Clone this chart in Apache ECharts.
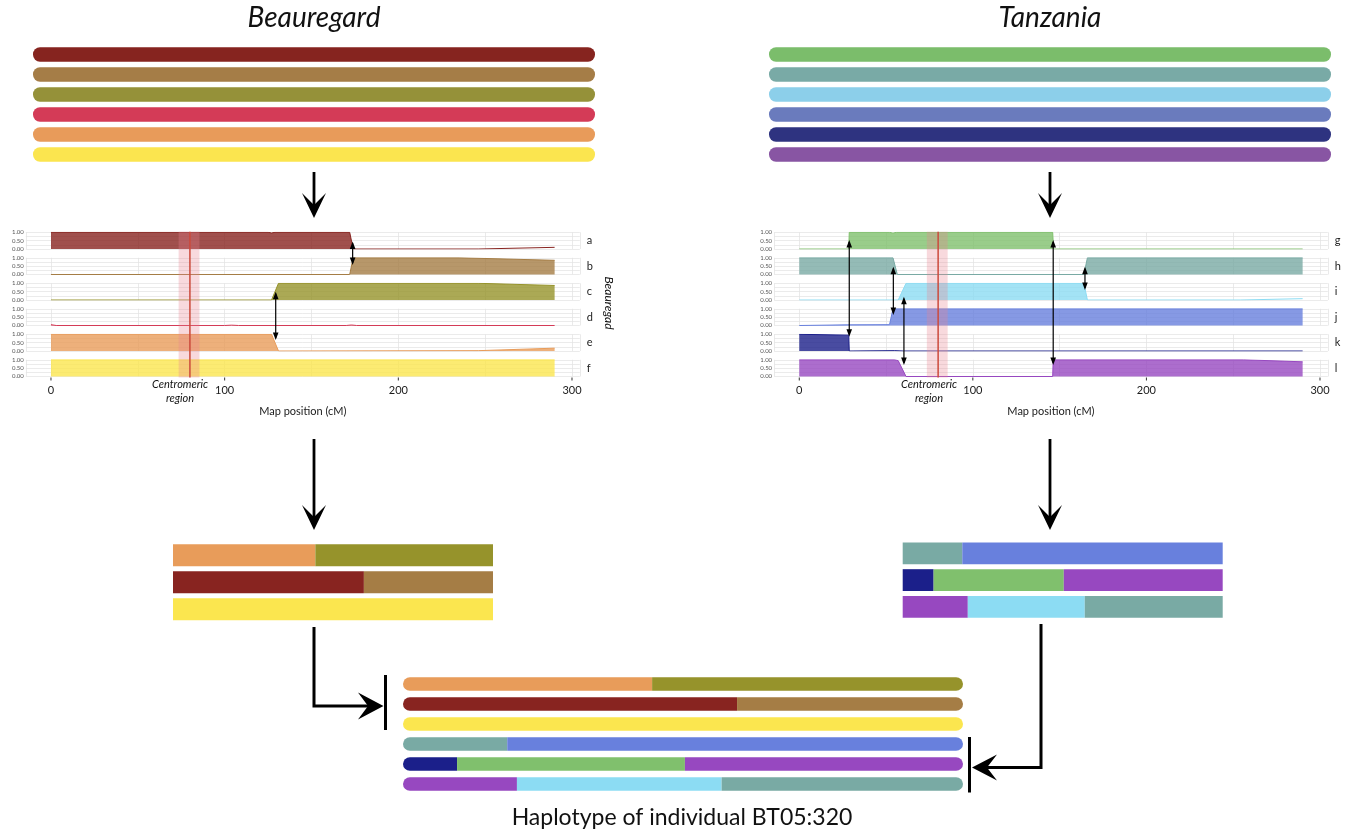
<!DOCTYPE html>
<html>
<head>
<meta charset="utf-8">
<script src="https://cdn.jsdelivr.net/npm/echarts@6/dist/echarts.min.js"></script>
<style>html,body{margin:0;padding:0;background:#fff}#c{width:1354px;height:835px}</style>
</head>
<body>
<div id="c"></div>
<script>
// ---------------- DATA ----------------
const chromLength = 290; // cM
const bxHaps = ['a', 'b', 'c', 'd', 'e', 'f'];
const tzHaps = ['g', 'h', 'i', 'j', 'k', 'l'];
// muted colours used for the founder bars at the top
const bxBarColors = ['#86241f', '#a57d47', '#959139', '#d43b57', '#e89b5a', '#fbe54f'];
const tzBarColors = ['#7bbd6b', '#79aaa6', '#8ccfea', '#6a7bbd', '#2e3380', '#8855a3'];
// colours used in probability panels and mosaics
const bxColors = ['#882420', '#a57d45', '#96932b', '#d43b57', '#e89c5a', '#fbe64f'];
const tzColors = ['#80c06d', '#79aaa4', '#8cdcf3', '#6880dd', '#1b1f8a', '#9748c0'];

// haplotype probabilities along the chromosome  [cM, probability]
const probA = [[0, 1], [125, 1], [127, 0.96], [129, 1], [172, 1], [174, 0], [246, 0], [290, 0.1]];
const probB = [[0, 0], [172, 0], [174, 1], [235, 1], [290, 0.85]];
const probC = [[0, 0], [127, 0], [131, 1], [246, 1], [290, 0.87]];
const probD = [[0, 0.05], [3, 0], [100, 0], [104, 0.02], [108, 0], [170, 0], [173, 0.03], [176, 0], [290, 0]];
const probE = [[0, 1], [127, 1], [131, 0], [246, 0.02], [290, 0.17]];
const probF = [[0, 1], [290, 1]];
const probG = [[0, 0], [28.5, 0], [28.8, 1], [52, 1], [54, 0.95], [56, 1], [146, 1], [146.5, 0], [290, 0]];
const probH = [[0, 1], [54, 1], [56.5, 0], [164, 0], [166, 1], [290, 1]];
const probI = [[0, 0], [57, 0], [61.5, 1], [164, 1], [166, 0], [254, 0], [290, 0.08]];
const probJ = [[0, 0], [28, 0.04], [52, 0.05], [54, 1], [290, 1]];
const probK = [[0, 1], [28.5, 0.95], [28.8, 0], [55, 0.02], [60, 0], [290, 0]];
const probL = [[0, 1], [55, 1], [57, 0.95], [61.5, 0], [146, 0], [146.3, 1], [256, 1], [290, 0.88]];
const bxProbs = [probA, probB, probC, probD, probE, probF];
const tzProbs = [probG, probH, probI, probJ, probK, probL];

// centromeric region [start, end, centre] in cM
const centromere = [73.5, 85.5, 80];
// crossover arrows: [cM, from track, to track]  (tracks counted from the top panel)
const bxArrows = [[173.7, 0.67, 1.59], [129.4, 2.64, 4.53]];
const tzArrows = [[28.8, 0.61, 4.4], [54.2, 1.66, 3.55], [60.3, 2.83, 5.51], [146.3, 0.61, 5.51], [164.6, 1.66, 2.57]];

// inferred haplotype segments: [start cM, end cM, haplotype]
const bxSegments = [
  [[0, 129, 'e'], [129, 290, 'c']],
  [[0, 173, 'a'], [173, 290, 'b']],
  [[0, 290, 'f']]
];
const tzSegments = [
  [[0, 54, 'h'], [54, 290, 'j']],
  [[0, 28, 'k'], [28, 146, 'g'], [146, 290, 'l']],
  [[0, 59, 'l'], [59, 165, 'i'], [165, 290, 'h']]
];
const xTickValues = [0, 100, 200, 300];
const xAxisTitle = 'Map position (cM)';
const titles = ['Beauregard', 'Tanzania'];
const caption = 'Haplotype of individual BT05:320';

// ---------------- CHART ----------------
const FONT = 'Lato, "Open Sans", sans-serif';
const NTRACK = 6;
const colorOf = {};
bxHaps.forEach((h, i) => colorOf[h] = bxColors[i]);
tzHaps.forEach((h, i) => colorOf[h] = tzColors[i]);

const option = {animation: false, textStyle: {fontFamily: FONT}, grid: [], xAxis: [], yAxis: [], series: [], graphic: []};
function addGrid(g) { option.grid.push(Object.assign({containLabel: false}, g)); return option.grid.length - 1; }
function addX(a) { option.xAxis.push(a); return option.xAxis.length - 1; }
function addY(a) { option.yAxis.push(a); return option.yAxis.length - 1; }

function segRender(hFrac, radius) {
  return function (params, api) {
    const row = api.value(0), s = api.value(1), e = api.value(2);
    const p0 = api.coord([s, row]);
    const p1 = api.coord([e, row]);
    const h = api.size([0, 1])[1] * hFrac;
    const rl = s <= 0 ? radius : 0;
    const rr = e >= chromLength ? radius : 0;
    return {type: 'rect', shape: {x: p0[0], y: p0[1] - h / 2, width: p1[0] - p0[0], height: h, r: [rl, rr, rr, rl]},
      style: {fill: api.visual('color')}};
  };
}
function addSegmentGrid(box, rows, hFrac, radius) {
  const gi = addGrid(box);
  const xi = addX({gridIndex: gi, type: 'value', min: 0, max: chromLength, show: false});
  const yi = addY({gridIndex: gi, type: 'category', inverse: true, data: rows.map((r, i) => i), show: false});
  const data = [];
  rows.forEach((segs, r) => segs.forEach(s => data.push({value: [r, s[0], s[1]], itemStyle: {color: s[3] || colorOf[s[2]]}})));
  option.series.push({type: 'custom', xAxisIndex: xi, yAxisIndex: yi, renderItem: segRender(hFrac, radius),
    encode: {x: [1, 2], y: 0}, data: data, clip: false});
}
// founder bars
addSegmentGrid({left: 33, top: 44.5, width: 562, height: 120}, bxBarColors.map(c => [[0, chromLength, '', c]]), 0.72, 7);
addSegmentGrid({left: 769, top: 44.5, width: 562, height: 120}, tzBarColors.map(c => [[0, chromLength, '', c]]), 0.72, 7);

// probability panels
const panelTop0 = 232.3, panelStep = 25.5, panelH = 16.7;
function addPanels(side) {
  for (let i = 0; i < 6; i++) {
    const gi = addGrid({left: side.left, width: side.width, top: panelTop0 + i * panelStep, height: panelH});
    const xi = addX({gridIndex: gi, type: 'value', min: -14.5, max: 304.5, splitNumber: 6,
      axisLine: {show: false, onZero: false}, axisTick: {show: false}, axisLabel: {show: false},
      splitLine: {show: true, lineStyle: {color: '#e4e4e4', width: 0.8}}});
    const yi = addY({gridIndex: gi, type: 'value', min: 0, max: 1, interval: 0.25,
      axisLine: {show: false, onZero: false}, axisTick: {show: false},
      axisLabel: {fontSize: 6, color: '#555', margin: 2, formatter: v => (Math.round(v * 100) % 50 === 0 ? v.toFixed(2) : '')},
      splitLine: {show: true, lineStyle: {color: '#e6e6e6', width: 0.8}}});
    addY({gridIndex: gi, type: 'category', data: [side.haps[i]], position: 'right',
      axisLine: {show: false, onZero: false}, axisTick: {show: false}, splitLine: {show: false},
      axisLabel: {fontSize: 11, color: '#222', margin: 7}});
    option.series.push({type: 'line', xAxisIndex: xi, yAxisIndex: yi, data: side.probs[i], showSymbol: false,
      symbol: 'none', lineStyle: {color: side.colors[i], width: 1}, areaStyle: {color: side.colors[i], opacity: 0.8}, z: 2});
  }
  // overlay grid: x axis, centromere, crossover arrows (y = tracks from the bottom)
  const gi = addGrid({left: side.left, width: side.width, top: 224.5, height: 153});
  const xi = addX({gridIndex: gi, type: 'value', min: -14.5, max: 304.5, position: 'bottom',
    axisLine: {show: false, onZero: false}, axisTick: {show: false},
    axisLabel: {customValues: xTickValues, fontSize: 11, color: '#1a1a1a', margin: 7},
    splitLine: {show: false},
    name: xAxisTitle, nameLocation: 'middle', nameGap: 28, nameTextStyle: {fontSize: 11, color: '#1a1a1a'}});
  const yi = addY({gridIndex: gi, type: 'value', min: 0, max: NTRACK, show: false, axisLine: {onZero: false}});
  // tick marks
  option.series.push({type: 'custom', xAxisIndex: xi, yAxisIndex: yi, z: 4, clip: false,
    data: xTickValues.map(v => [v, 0]),
    renderItem: function (params, api) {
      const p = api.coord([api.value(0), api.value(1)]);
      return {type: 'line', shape: {x1: p[0], y1: p[1], x2: p[0], y2: p[1] + 3}, style: {stroke: '#333', lineWidth: 1}};
    }});
  option.series.push({type: 'custom', xAxisIndex: xi, yAxisIndex: yi, z: 5, clip: false,
    data: [[centromere[0], centromere[1], centromere[2], 0.28, 6]],
    renderItem: function (params, api) {
      const a = api.coord([api.value(0), NTRACK - api.value(3)]);
      const b = api.coord([api.value(1), NTRACK - api.value(4)]);
      const c0 = api.coord([api.value(2), NTRACK - api.value(3)]);
      const c1 = api.coord([api.value(2), NTRACK - api.value(4)]);
      return {type: 'group', children: [
        {type: 'rect', shape: {x: a[0], y: a[1], width: b[0] - a[0], height: b[1] - a[1]}, style: {fill: 'rgba(232,130,142,0.3)'}},
        {type: 'line', shape: {x1: c0[0], y1: c0[1], x2: c1[0], y2: c1[1]}, style: {stroke: '#cc4a3c', lineWidth: 1.5}}
      ]};
    }});
  option.series.push({type: 'custom', xAxisIndex: xi, yAxisIndex: yi, z: 6, clip: false,
    data: side.arrows,
    renderItem: function (params, api) {
      const p = api.coord([api.value(0), NTRACK - api.value(1)]);
      const q = api.coord([api.value(0), NTRACK - api.value(2)]);
      const x = p[0], hw = 2.8, hl = 7.5;
      return {type: 'group', children: [
        {type: 'line', shape: {x1: x, y1: p[1] + 2, x2: x, y2: q[1] - 2}, style: {stroke: '#000', lineWidth: 1.2}},
        {type: 'polygon', shape: {points: [[x, p[1]], [x - hw, p[1] + hl], [x + hw, p[1] + hl]]}, style: {fill: '#000'}},
        {type: 'polygon', shape: {points: [[x, q[1]], [x - hw, q[1] - hl], [x + hw, q[1] - hl]]}, style: {fill: '#000'}}
      ]};
    }});
}
addPanels({left: 25.8, width: 554, haps: bxHaps, probs: bxProbs, colors: bxColors, arrows: bxArrows});
addPanels({left: 774.1, width: 553.7, haps: tzHaps, probs: tzProbs, colors: tzColors, arrows: tzArrows});

// mosaics
addSegmentGrid({left: 173, top: 541.8, width: 320, height: 81}, bxSegments, 0.815, 0);
addSegmentGrid({left: 902.7, top: 539.9, width: 320, height: 80.4}, tzSegments, 0.815, 0);
// combined haplotype
addSegmentGrid({left: 403, top: 674, width: 560, height: 120}, bxSegments.concat(tzSegments), 0.685, 7);

// ---------------- decorations ----------------
const G = option.graphic;
function text(x, y, str, st, extra) {
  G.push(Object.assign({type: 'text', x: x, y: y, silent: true,
    style: Object.assign({text: str, fontFamily: FONT, fill: '#111', align: 'center', verticalAlign: 'middle'}, st)}, extra || {}));
}
text(314, 18, titles[0], {fontSize: 28, fontStyle: 'italic'});
text(1050, 18, titles[1], {fontSize: 28, fontStyle: 'italic'});
text(180, 391, 'Centromeric\nregion', {fontSize: 11, fontStyle: 'italic', lineHeight: 14});
text(929, 391, 'Centromeric\nregion', {fontSize: 11, fontStyle: 'italic', lineHeight: 14});
text(609, 303, 'Beauregad', {fontSize: 12, fontStyle: 'italic'}, {rotation: -Math.PI / 2});
text(682, 818, caption, {fontSize: 23});

function downArrow(cx, y0, tip) {
  G.push({type: 'line', shape: {x1: cx, y1: y0, x2: cx, y2: tip - 12}, style: {stroke: '#000', lineWidth: 2.8}});
  G.push({type: 'polygon', shape: {points: [[cx, tip], [cx - 12, tip - 25], [cx, tip - 13], [cx + 12, tip - 25]]}, style: {fill: '#000'}});
}
downArrow(314, 172, 218);
downArrow(1050, 172, 218);
downArrow(314, 439, 530);
downArrow(1050, 439, 530);
// bracket arrows to the combined haplotype
G.push({type: 'polyline', shape: {points: [[314, 627], [314, 706], [368, 706]]}, style: {stroke: '#000', lineWidth: 3, fill: null}});
G.push({type: 'polygon', shape: {points: [[383.5, 706], [358, 692.5], [368, 706], [358, 719.5]]}, style: {fill: '#000'}});
G.push({type: 'line', shape: {x1: 385.5, y1: 675, x2: 385.5, y2: 730}, style: {stroke: '#000', lineWidth: 3}});
G.push({type: 'polyline', shape: {points: [[1041, 624], [1041, 767.5], [987, 767.5]]}, style: {stroke: '#000', lineWidth: 3, fill: null}});
G.push({type: 'polygon', shape: {points: [[972, 767.5], [997, 754.5], [987, 767.5], [997, 780.5]]}, style: {fill: '#000'}});
G.push({type: 'line', shape: {x1: 969.5, y1: 737, x2: 969.5, y2: 792.5}, style: {stroke: '#000', lineWidth: 3}});

const chart = echarts.init(document.getElementById('c'), null, {renderer: 'canvas'});
chart.setOption(option);
</script>
</body>
</html>
